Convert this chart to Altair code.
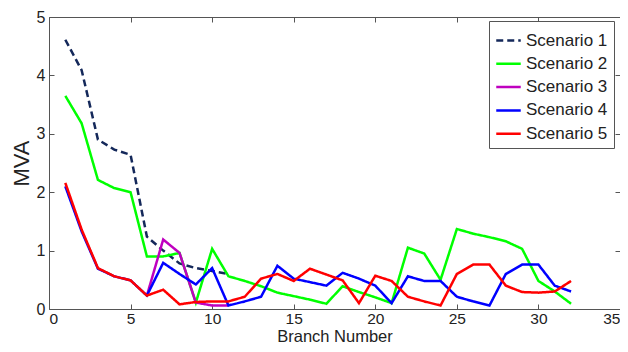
import altair as alt
import pandas as pd

# ---- data ----
branch_s1 = list(range(1, 12))
s1 = [4.61, 4.09, 2.90, 2.73, 2.64, 1.24, 1.00, 0.78, 0.70, 0.65, 0.60]

branch_all = list(range(1, 33))
s2 = [3.65, 3.18, 2.21, 2.07, 2.00, 0.90, 0.90, 0.96, 0.11, 1.03,
      0.56, 0.48, 0.39, 0.28, 0.22, 0.16, 0.09, 0.39, 0.29, 0.20,
      0.10, 1.05, 0.95, 0.50, 1.37, 1.29, 1.23, 1.16, 1.03, 0.48,
      0.30, 0.09]

branch_s3 = list(range(6, 12))
s3 = [0.23, 1.19, 0.96, 0.11, 0.06, 0.06]

s4 = [2.10, 1.33, 0.69, 0.56, 0.49, 0.23, 0.79, 0.60, 0.42, 0.70,
      0.06, 0.13, 0.21, 0.74, 0.52, 0.46, 0.40, 0.62, 0.52, 0.40,
      0.10, 0.56, 0.48, 0.48, 0.21, 0.13, 0.06, 0.60, 0.76, 0.76,
      0.40, 0.30]

s5 = [2.16, 1.36, 0.70, 0.56, 0.49, 0.23, 0.33, 0.08, 0.12, 0.13,
      0.13, 0.21, 0.52, 0.60, 0.48, 0.69, 0.59, 0.49, 0.10, 0.57,
      0.48, 0.21, 0.13, 0.06, 0.60, 0.76, 0.76, 0.40, 0.29, 0.28,
      0.30, 0.48]

names = ["Scenario 1", "Scenario 2", "Scenario 3", "Scenario 4", "Scenario 5"]
colors = ["#14285a", "#00ff00", "#bf00bf", "#0000ff", "#ff0000"]
dashes = [[7, 4], [1, 0], [1, 0], [1, 0], [1, 0]]

x_ticks = [0, 5, 10, 15, 20, 25, 30, 35]
y_ticks = [0, 1, 2, 3, 4, 5]

rows = []
for name, xs, ys in [
    (names[0], branch_s1, s1),
    (names[1], branch_all, s2),
    (names[2], branch_s3, s3),
    (names[3], branch_all, s4),
    (names[4], branch_all, s5),
]:
    for xv, yv in zip(xs, ys):
        rows.append({"branch": xv, "mva": yv, "scenario": name})
df = pd.DataFrame(rows)

FONT = "Liberation Sans"
TICKC = "#555555"
TEXTC = "#222222"

legend = alt.Legend(
    title=None, orient="none", legendX=440, legendY=4,
    strokeColor=TICKC, fillColor="white", padding=6, cornerRadius=0,
    symbolType="stroke", symbolStrokeWidth=2.5, symbolSize=600,
    labelFont=FONT, labelFontSize=17, labelColor=TEXTC,
    labelOffset=4, rowPadding=1.3,
)

xscale = alt.Scale(domain=[0, 35], nice=False, zero=False)
yscale = alt.Scale(domain=[0, 5], nice=False)

lines = alt.Chart(df).mark_line(strokeWidth=2.5).encode(
    x=alt.X("branch:Q", scale=xscale, axis=alt.Axis(
        orient="bottom", values=x_ticks, offset=-5, tickSize=5, domain=False,
        grid=False, tickColor=TICKC, labelPadding=2, labelFont=FONT,
        labelFontSize=15.5, labelColor=TEXTC, title="Branch Number",
        titleFont=FONT, titleFontSize=16.5, titleFontWeight="normal",
        titleColor=TEXTC, titleBaseline="alphabetic", titleY=37.5)),
    y=alt.Y("mva:Q", scale=yscale, axis=alt.Axis(
        orient="left", values=y_ticks, offset=-5, tickSize=5, domain=False,
        grid=False, tickColor=TICKC, labelPadding=4, labelFont=FONT,
        labelFontSize=16, labelColor=TEXTC, title="MVA",
        titleFont=FONT, titleFontSize=22, titleFontWeight="normal",
        titleColor=TEXTC, titleBaseline="alphabetic", titleX=-26)),
    color=alt.Color("scenario:N", scale=alt.Scale(domain=names, range=colors),
                    legend=legend),
    strokeDash=alt.StrokeDash("scenario:N",
                              scale=alt.Scale(domain=names, range=dashes),
                              legend=legend),
)

frame = alt.Chart(df).mark_line(opacity=0).encode(
    x=alt.X("branch:Q", scale=xscale, axis=alt.Axis(
        orient="top", values=x_ticks, offset=-5, tickSize=5, domain=False,
        grid=False, labels=False, tickColor=TICKC, title=None)),
    y=alt.Y("mva:Q", scale=yscale, axis=alt.Axis(
        orient="right", values=y_ticks, offset=-5, tickSize=5, domain=False,
        grid=False, labels=False, tickColor=TICKC, title=None)),
)

chart = alt.layer(lines, frame).resolve_axis(
    x="independent", y="independent"
).properties(
    width=571, height=292,
    autosize=alt.AutoSizeParams(type="none"),
    padding={"left": 41, "top": 9, "right": 0, "bottom": 35},
    background="white",
).configure_view(stroke=TICKC, strokeWidth=1)

chart.save("out.html", embed_options={"renderer": "svg", "actions": False})
